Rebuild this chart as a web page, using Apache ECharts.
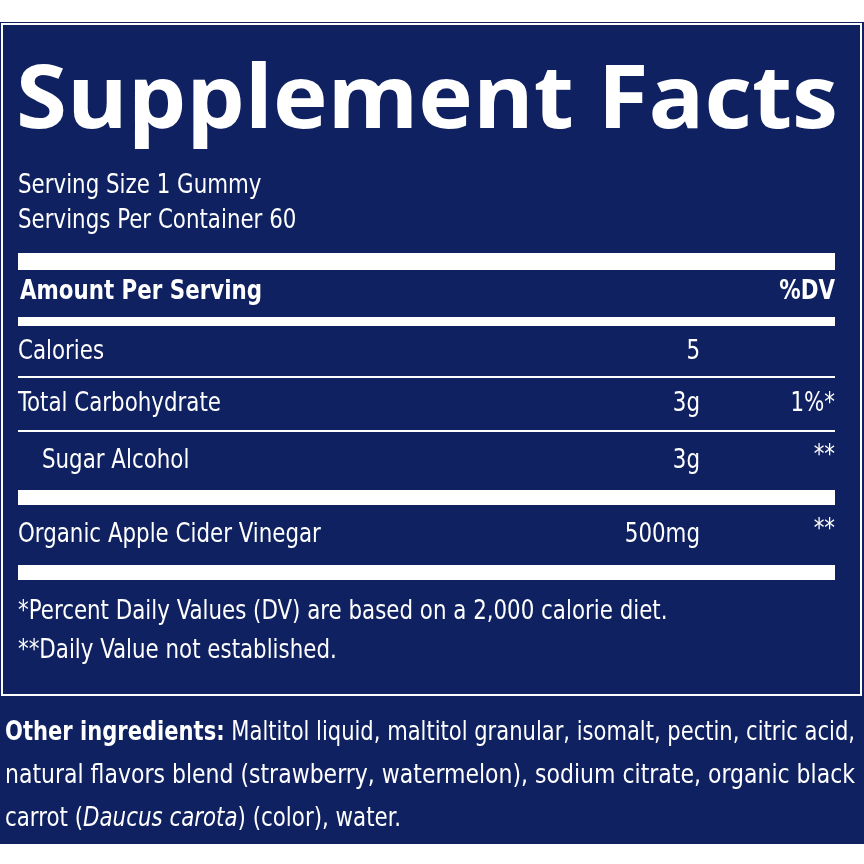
<!DOCTYPE html><html><head><meta charset="utf-8"><script src="https://cdn.jsdelivr.net/npm/echarts@6/dist/echarts.min.js"></script>
<style>html,body{margin:0;background:#fff}#c{width:864px;height:864px}</style></head><body><div id="c"></div><script>
const title = 'Supplement Facts';
const servingLines = ['Serving Size 1 Gummy', 'Servings Per Container 60'];
const nutrients = ['Calories', 'Total Carbohydrate', 'Sugar Alcohol', 'Organic Apple Cider Vinegar'];
const amounts = ['5', '3g', '3g', '500mg'];
const dvs = ['', '1%*', '**', '**'];
const footnotes = ['*Percent Daily Values (DV) are based on a 2,000 calorie diet.', '**Daily Value not established.'];
const ingredientLines = [
 [['b','Other ingredients:'],['n',' Maltitol liquid, maltitol granular, isomalt, pectin, citric acid,']],
 [['n','natural flavors blend (strawberry, watermelon), sodium citrate, organic black']],
 [['n','carrot ('],['i','Daucus carota'],['n',') (color), water.']]];
const NAVY = '#0f2160', W = '#fff';
const F = '"Liberation Sans Narrow","DejaVu Sans Condensed",sans-serif';
const SX = 0.88;
const rowY = [352, 404, 461, 535], rowX = [18, 18, 42, 18];
const fonts = {n:'27px '+F, b:'bold 27px '+F, i:'italic 27px '+F};
const ctx = document.createElement('canvas').getContext('2d');
const measure = segs => segs.reduce((s,[k,t])=>{ctx.font=fonts[k];return s+ctx.measureText(t).width;},0);
const g = [];
const txt = (x,y,text,font,align,sx) => g.push({type:'text',x:x,y:y,scaleX:sx||SX,originX:0,
  style:{text:text,fill:W,font:font,verticalAlign:'middle',align:align||'left'}});
g.push({type:'rect', shape:{x:0,y:22,width:864,height:822}, style:{fill:NAVY}});
g.push({type:'rect', shape:{x:2,y:24,width:859,height:671}, style:{fill:'none',stroke:W,lineWidth:2}});
g.push({type:'text', x:16, y:103, scaleX:1.075, scaleY:1.03, style:{text:title, fill:W, font:'bold 86px "Open Sans",sans-serif', verticalAlign:'middle'}});
servingLines.forEach((t,i)=>txt(18,186+i*35,t,fonts.n));
const bar=(y,h)=>g.push({type:'rect',shape:{x:18,y:y,width:817,height:h},style:{fill:W}});
bar(253,17); bar(317,9); bar(376,2); bar(430,2); bar(490,15); bar(565,15);
txt(20,292,'Amount Per Serving',fonts.b);
txt(835,292,'%DV',fonts.b,'right');
nutrients.forEach((n,i)=>{
  txt(rowX[i],rowY[i],n,fonts.n);
  txt(700,rowY[i],amounts[i],fonts.n,'right');
  if(dvs[i]) txt(835,rowY[i]-(dvs[i]==='**'?5:0),dvs[i],fonts.n,'right');
});
footnotes.forEach((t,i)=>txt(18,612+i*39,t,fonts.n));
ingredientLines.forEach((segs,i)=>{
  const sx = i<2 ? 850/measure(segs) : SX;
  g.push({type:'text',x:5,y:733+i*43,scaleX:sx,originX:0,style:{text:segs.map(([k,t])=>k==='n'?t:'{'+k+'|'+t+'}').join(''),
    fill:W,font:fonts.n,verticalAlign:'middle',rich:{b:{fill:W,font:fonts.b},i:{fill:W,font:fonts.i}}}});
});
const ch=echarts.init(document.getElementById('c'));
ch.setOption({backgroundColor:'#fff',graphic:g});
</script></body></html>
